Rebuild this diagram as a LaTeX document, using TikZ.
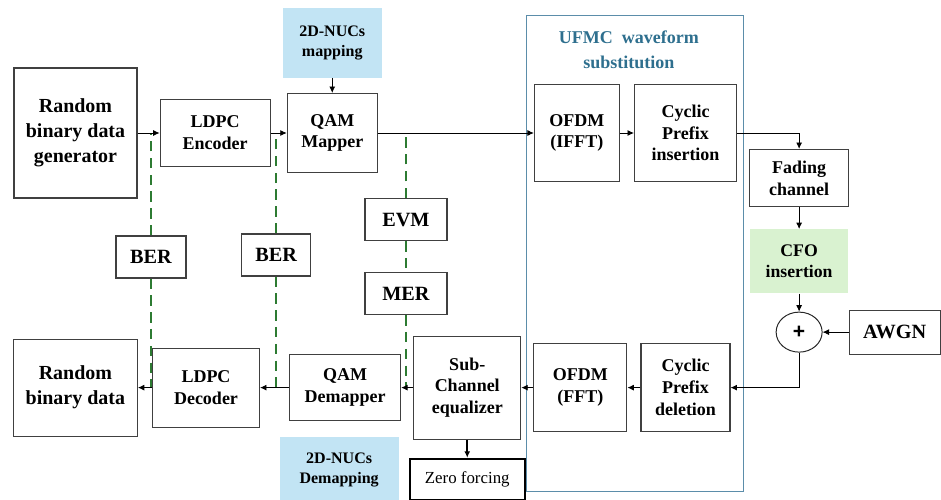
\documentclass[tikz,border=0pt]{standalone}
\usepackage{fontspec}
\setmainfont{Liberation Serif}
\newfontfamily\plusfont{Liberation Sans}
\usepackage{tikz}
\usetikzlibrary{arrows.meta,positioning,shapes.geometric,fit,calc}
\definecolor{NUCblue}{HTML}{C2E4F4}
\definecolor{CFOgreen}{HTML}{D9F2D0}
\definecolor{UFMCteal}{HTML}{2E6F8E}
\definecolor{UFMCline}{HTML}{5B8DAA}
\definecolor{probegreen}{HTML}{2D7B32}
\tikzset{
  blk/.style={draw=black!75, line width=0.8pt, align=center, inner sep=1pt, font=\bfseries\fontsize{12.8}{15.5}\selectfont},
  bigblk/.style={blk, font=\bfseries\fontsize{14.2}{17.8}\selectfont},
  meter/.style={blk, minimum height=10.5mm, font=\bfseries\fontsize{14.4}{17}\selectfont},
  nuc/.style={fill=NUCblue, align=center, inner sep=1pt, font=\bfseries\fontsize{11.4}{14}\selectfont},
  cfo/.style={fill=CFOgreen, align=center, inner sep=1pt, font=\bfseries\fontsize{12.6}{15}\selectfont},
  adder/.style={draw=black!85, line width=0.7pt, ellipse, inner sep=0pt, minimum width=11.5mm, minimum height=10mm, font=\plusfont\bfseries\fontsize{15}{15}\selectfont},
  zfbox/.style={draw=black, line width=1.4pt, align=center, inner sep=1pt, font=\fontsize{12}{14}\selectfont},
  ufmcframe/.style={draw=UFMCline, line width=0.8pt, inner sep=0pt},
  ufmctitle/.style={text=UFMCteal, align=center, inner sep=1pt, font=\bfseries\fontsize{12.8}{17.8}\selectfont},
  arr/.style={-{Latex[length=1.6mm,width=1.5mm]}, line width=0.6pt},
  thickarr/.style={arr, line width=1.2pt},
  probe/.style={draw=probegreen, line width=1.6pt, dash pattern=on 2.6mm off 1.6mm}
}

\begin{document}
\begin{tikzpicture}
\useasboundingbox (-18.875mm,33.25mm) rectangle (216.375mm,-91.75mm);

% transmitter chain
\node[bigblk, minimum width=30.75mm, minimum height=32.5mm] (gen) at (0,0) {Random\\binary data\\generator};
\node[blk, right=5.5mm of gen, minimum width=27.5mm, minimum height=16.75mm] (enc) {LDPC\\Encoder};
\node[blk, right=4mm of enc, minimum width=22.5mm, minimum height=19.75mm] (qam) {QAM\\Mapper};
\node[nuc, above=3.75mm of qam, minimum width=24.75mm, minimum height=17.5mm] (nucmap) {2D-NUCs\\mapping};
\node[blk, right=39mm of qam, minimum width=21.25mm, minimum height=24.25mm] (ifft) {OFDM\\(IFFT)};
\node[blk, right=3.5mm of ifft, minimum width=25.5mm, minimum height=24.25mm] (cpi) {Cyclic\\Prefix\\insertion};

% channel
\node[blk, right=3mm of cpi, yshift=-11.25mm, minimum width=24.75mm, minimum height=14.25mm] (fade) {Fading\\channel};
\node[cfo, below=5.5mm of fade, minimum width=24.5mm, minimum height=16mm] (cfoins) {CFO\\insertion};
\node[adder, below=4.5mm of cfoins] (plus) {+};
\node[meter, right=6.5mm of plus, minimum width=22.75mm, minimum height=11mm] (awgn) {AWGN};

% receiver chain
\node[blk, below=40.25mm of cpi, minimum width=22.25mm, minimum height=22mm] (cpd) {Cyclic\\Prefix\\deletion};
\node[blk, left=3.25mm of cpd, minimum width=23.25mm, minimum height=22mm] (fft) {OFDM\\(FFT)};
\node[blk, left=3mm of fft, minimum width=26.75mm, minimum height=25.75mm] (eq) {Sub-\\Channel\\equalizer};
\node[zfbox, below=4.5mm of eq, minimum width=28.75mm, minimum height=10.25mm] (zf) {Zero forcing};
\node[blk, left=3mm of eq, minimum width=27.75mm, minimum height=16.5mm] (dem) {QAM\\Demapper};
\node[nuc, below=4mm of dem, xshift=-1.5mm, minimum width=29.75mm, minimum height=16.25mm] (nucdemap) {2D-NUCs\\Demapping};
\node[blk, left=7.25mm of dem, minimum width=26.75mm, minimum height=19.75mm] (dec) {LDPC\\Decoder};
\node[bigblk, left=3.5mm of dec, minimum width=31mm, minimum height=24.25mm] (out) {Random\\binary data};

% UFMC block
\path ($(ifft.north west)+(-1.75mm,17mm)$) coordinate (ufmcTL)
      ($(cpd.south east)+(3.25mm,-14.75mm)$) coordinate (ufmcBR);
\node[ufmcframe, fit=(ufmcTL)(ufmcBR)] (ufmc) {};
\node[ufmctitle, below=3.4mm of ufmc.north, xshift=-1.6mm] (ufmclabel) {UFMC~~waveform\\substitution};

% measurement points
\node[meter, minimum width=17.5mm] (ber1) at ($(gen.east)!0.5!(enc.west)+(0.6mm,-31mm)$) {BER};
\node[meter, minimum width=17.25mm] (ber2) at ($(enc.east)!0.5!(qam.west)+(-0.6mm,-30.5mm)$) {BER};
\node[meter, minimum width=20.5mm] (evm) at ($(dem.east)!0.5!(eq.west)+(-0.3mm,42mm)$) {EVM};
\node[meter, minimum width=20.5mm] (mer) at ($(dem.east)!0.5!(eq.west)+(-0.3mm,23.5mm)$) {MER};

\draw[probe] (ber1) -- (ber1 |- gen.east);
\draw[probe] (ber1) -- (ber1 |- dec.west);
\draw[probe] (ber2) -- (ber2 |- enc.east);
\draw[probe] (ber2) -- (ber2 |- dem.west);
\draw[probe] (evm) -- (evm |- qam.east);
\draw[probe] (evm) -- (mer);
\draw[probe] (mer) -- (mer |- eq.west);

\draw[arr] (gen) -- (enc);
\draw[arr] (enc) -- (qam);
\draw[arr] (nucmap) -- (qam);
\draw[arr] (qam) -- (ifft);
\draw[arr] (ifft) -- (cpi);
\draw[arr] (cpi.east) -| (fade.north);
\draw[arr] (fade) -- (cfoins);
\draw[arr] (cfoins) -- (plus);
\draw[arr] (awgn) -- (plus);
\draw[arr] (plus.south) |- (cpd.east);
\draw[arr] (cpd) -- (fft);
\draw[arr] (fft) -- (eq);
\draw[arr] (eq) -- (dem);
\draw[arr] (dem) -- (dec);
\draw[arr] (dec) -- (out);
\draw[thickarr] (eq) -- (zf);
\end{tikzpicture}
\end{document}
